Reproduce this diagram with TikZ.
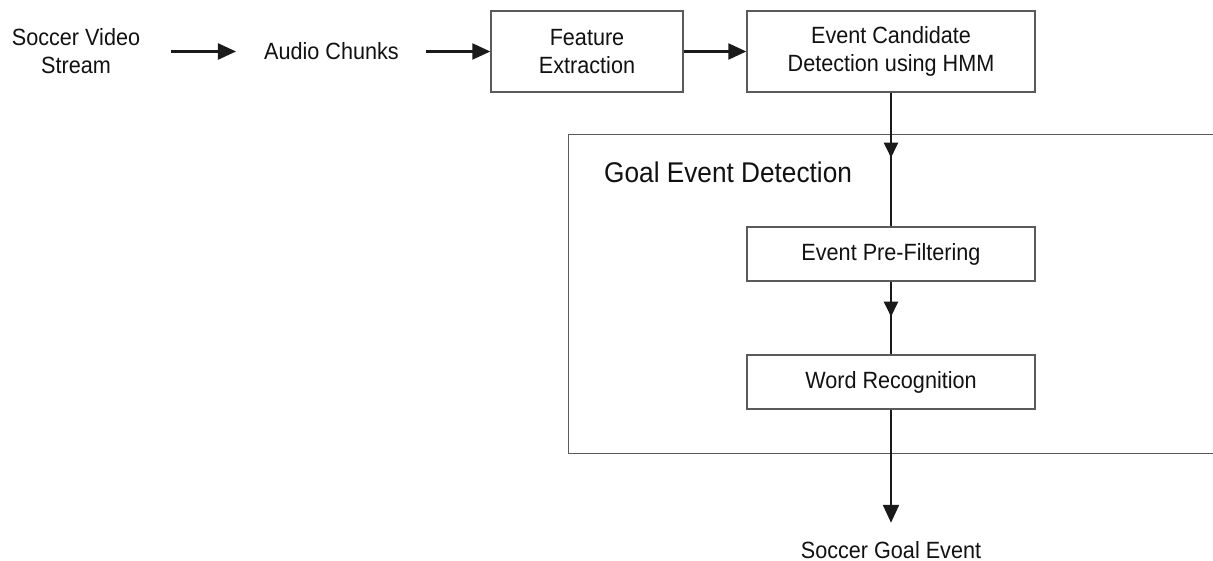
\documentclass[tikz,border=0pt]{standalone}
\usepackage{fontspec}
\setmainfont[FakeStretch=0.92]{Liberation Sans}
\usetikzlibrary{arrows.meta,decorations.markings}

\definecolor{boxline}{HTML}{5A5A5A}
\definecolor{flowline}{HTML}{1A1A1A}
\definecolor{ink}{HTML}{111111}

\begin{document}
\begin{tikzpicture}[x=1pt,y=-1pt,
  every node/.style={font=\fontsize{23.5}{28}\selectfont, text=ink, inner sep=0pt, align=center},
  stagebox/.style={draw=boxline, line width=1.4pt},
  flow/.style={draw=flowline, line width=2.3pt, -{Triangle[length=18pt,width=16pt]}},
  plainflow/.style={draw=flowline, line width=2.3pt},
  midtip/.style={postaction={decorate},
    decoration={markings, mark=at position #1 with {\arrow[flowline]{Triangle[length=15pt,width=14pt]}}}}
]
\useasboundingbox (0,0) rectangle (1213,561);

% input chain
\node (src) at (76,51.5) {Soccer Video\\Stream};
\node (audio) at (331.5,51.5) {Audio Chunks};
\node[stagebox, minimum width=192pt, minimum height=81pt] (feat) at (587,51.5) {Feature\\Extraction};
\node[stagebox, minimum width=288pt, minimum height=81pt] (cand) at (891,51.5) {Event Candidate\\Detection using HMM};

% goal event detection stage
\node[stagebox, anchor=north west, minimum width=646.5pt, minimum height=319pt] (ged) at (567.5,134) {};
\node[anchor=base west, font=\fontsize{28.5}{34}\selectfont] (gedtitle) at (604,183) {Goal Event Detection};
\node[stagebox, minimum width=288pt, minimum height=54pt] (pre) at (891,254) {Event Pre-Filtering};
\node[stagebox, minimum width=288pt, minimum height=54pt] (word) at (891,382) {Word Recognition};

% output
\node[anchor=base] (goal) at (891,558) {Soccer Goal Event};

% connectors
\draw[flow, shorten <=31pt, shorten >=28pt] (src.east) -- (audio.west);
\draw[flow, shorten <=27pt] (audio.east) -- (feat.west);
\draw[flow] (feat.east) -- (cand.west);
\draw[plainflow, midtip=65pt] (cand.south) -- (pre.north);
\draw[plainflow, midtip=35pt] (pre.south) -- (word.north);
\draw[flow, shorten >=18pt] (word.south) -- (goal.north);
\end{tikzpicture}
\end{document}
